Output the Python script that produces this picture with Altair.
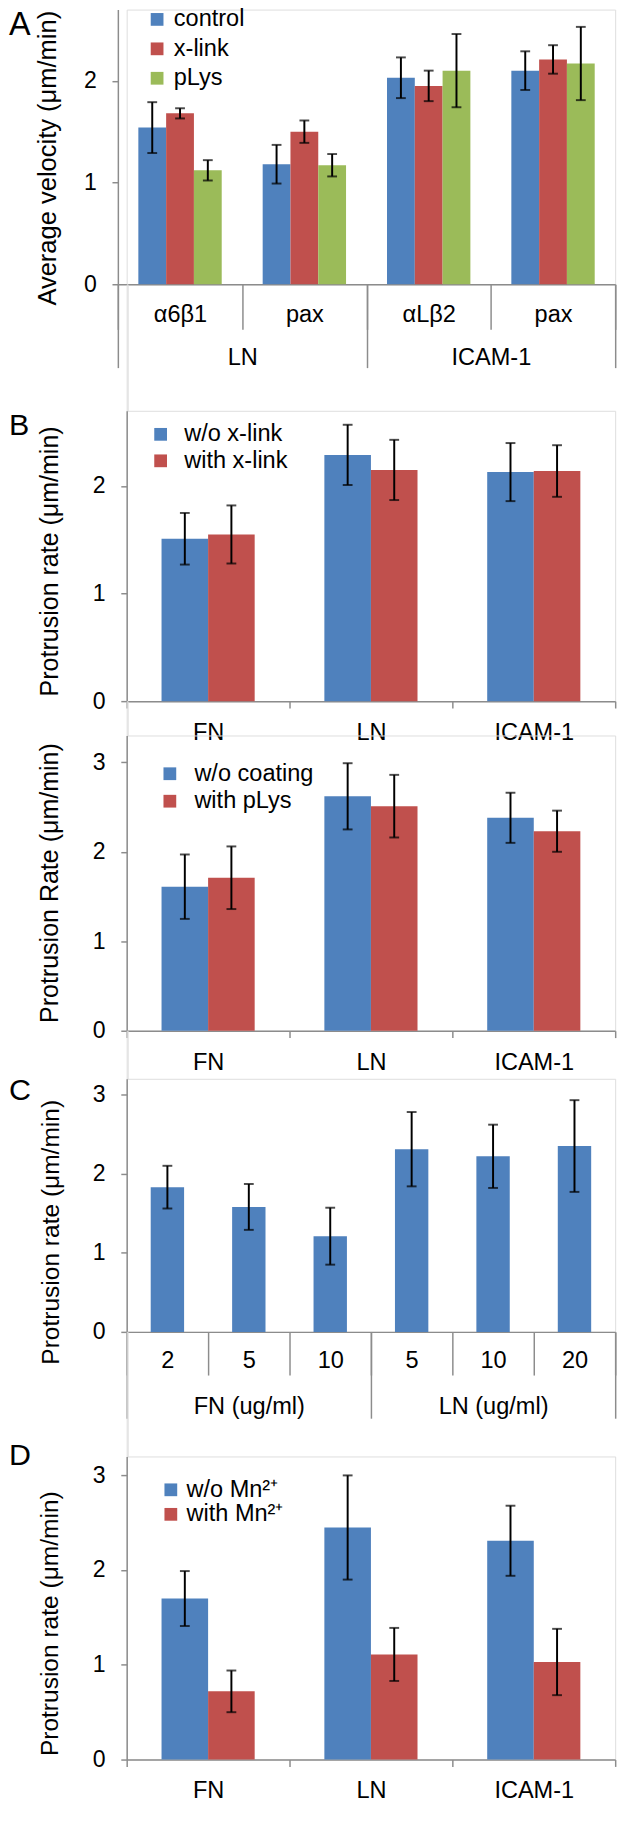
import altair as alt
import pandas as pd

FONT = "Liberation Sans"
GREY = "#8C8C8C"
W = 498

# ---------------- data ----------------
# Panel A
A_groups = ["LN", "LN", "ICAM-1", "ICAM-1"]
A_subs = ["α6β1", "pax", "αLβ2", "pax"]
A_series = ["control", "x-link", "pLys"]
A_colors = ["#4F81BD", "#C0504D", "#9BBB59"]
A_control = [1.54, 1.18, 2.03, 2.10]
A_control_err = [0.25, 0.19, 0.20, 0.19]
A_xlink = [1.68, 1.50, 1.95, 2.21]
A_xlink_err = [0.05, 0.11, 0.15, 0.14]
A_plys = [1.12, 1.17, 2.10, 2.17]
A_plys_err = [0.10, 0.11, 0.36, 0.36]

# Panel B (top)
B1_cats = ["FN", "LN", "ICAM-1"]
B1_series = ["w/o x-link", "with x-link"]
B1_wo = [1.51, 2.29, 2.13]
B1_wo_err = [0.24, 0.28, 0.27]
B1_with = [1.55, 2.15, 2.14]
B1_with_err = [0.27, 0.28, 0.24]

# Panel B (bottom)
B2_cats = ["FN", "LN", "ICAM-1"]
B2_series = ["w/o coating", "with pLys"]
B2_wo = [1.61, 2.62, 2.38]
B2_wo_err = [0.36, 0.37, 0.28]
B2_with = [1.71, 2.51, 2.23]
B2_with_err = [0.35, 0.35, 0.23]

# Panel C
C_groups = ["FN (ug/ml)"] * 3 + ["LN (ug/ml)"] * 3
C_subs = ["2", "5", "10", "5", "10", "20"]
C_values = [1.83, 1.58, 1.21, 2.31, 2.22, 2.35]
C_err = [0.27, 0.29, 0.36, 0.47, 0.40, 0.58]

# Panel D
D_cats = ["FN", "LN", "ICAM-1"]
D_series = ["w/o Mn²⁺", "with Mn²⁺"]
D_wo = [1.70, 2.45, 2.31]
D_wo_err = [0.29, 0.55, 0.37]
D_with = [0.72, 1.11, 1.03]
D_with_err = [0.22, 0.28, 0.35]

BLUE_RED = ["#4F81BD", "#C0504D"]


def make_df(cats, groups, series, vals, errs):
    rows = []
    for i, c in enumerate(cats):
        rows.append(dict(cat=c, grp=groups[i], series=series, value=vals[i],
                         lo=vals[i] - errs[i], hi=vals[i] + errs[i]))
    return pd.DataFrame(rows)


def panel(cats, groups, series_list, colors, ymax, yticks, height, ytitle,
          ytitle_size, title_x, title_y, letter, letter_size, letter_y,
          sub_tick, sub_pad, legend, bar_frac, xrange=None, yoffset=0,
          grp_order=None, grp_tick=None, grp_pad=None, label_expr=None):
    span = (xrange[1] - xrange[0]) if xrange else W
    step = span / len(cats)
    bar_w = bar_frac * step
    n = len(series_list)
    sc = dict(paddingInner=0, paddingOuter=0)
    if xrange is not None:
        sc["range"] = xrange
    xaxis_kw = dict(tickBand="extent", tickSize=sub_tick, tickColor=GREY,
                    tickWidth=1.5, domainColor=GREY, domainWidth=1.5,
                    labelFontSize=24, labelColor="black", labelPadding=sub_pad,
                    labelBaseline="middle", labelAngle=0, labelOverlap=False,
                    grid=False, labelFont=FONT)
    if label_expr:
        xaxis_kw["labelExpr"] = label_expr
    x = alt.X("cat:N", sort=cats, scale=alt.Scale(**sc),
              axis=alt.Axis(**xaxis_kw), title=None)
    yaxis = alt.Axis(values=yticks, format="d", titleFontSize=ytitle_size,
                     titleFont=FONT, titleFontWeight="normal", titleColor="black",
                     titleX=title_x, titleY=title_y, titleAngle=-90,
                     titleAlign="center", titleBaseline="middle",
                     labelFontSize=23.5, labelColor="black", labelFont=FONT,
                     labelPadding=16, tickSize=6, tickColor=GREY, tickWidth=1.5,
                     domainColor=GREY, domainWidth=1.5, grid=False,
                     offset=yoffset)

    def y(field):
        return alt.Y(f"{field}:Q", scale=alt.Scale(domain=[0, ymax], nice=False),
                     axis=yaxis, title=ytitle)

    names = [s for s, _, _ in series_list]
    color = alt.Color("series:N", sort=names,
                      scale=alt.Scale(domain=names, range=colors), legend=legend)
    layers = []
    for k, (s, vals, errs) in enumerate(series_list):
        df = make_df(cats, groups, s, vals, errs)
        dx = (k - (n - 1) / 2) * bar_w
        base = alt.Chart(df)
        layers.append(base.mark_bar(width=alt.RelativeBandSize(bar_frac),
                                    xOffset=dx).encode(
            x=x, y=y("value"), color=color))
        layers.append(base.mark_rule(color="black", strokeWidth=2, xOffset=dx)
                      .encode(x=x, y=y("lo"), y2="hi:Q"))
        layers.append(base.mark_tick(color="black", thickness=2, size=10,
                                     xOffset=dx).encode(x=x, y=y("lo")))
        layers.append(base.mark_tick(color="black", thickness=2, size=10,
                                     xOffset=dx).encode(x=x, y=y("hi")))
    if letter:
        ldf = pd.DataFrame({"t": [letter]})
        layers.append(alt.Chart(ldf).mark_text(
            fontSize=letter_size, font=FONT, color="black", align="left",
            baseline="alphabetic").encode(text="t:N", x=alt.value(-120),
                                          y=alt.value(letter_y)))
    inner = alt.layer(*layers)
    if grp_order is not None:
        gsc = dict(paddingInner=0, paddingOuter=0)
        if xrange is not None:
            gsc["range"] = xrange
        gdf = pd.DataFrame({"grp": grp_order})
        glayer = alt.Chart(gdf).mark_point(opacity=0).encode(
            x=alt.X("grp:N", sort=grp_order, scale=alt.Scale(**gsc),
                    axis=alt.Axis(orient="bottom", domain=False, tickBand="extent",
                                  tickSize=grp_tick, tickColor=GREY, tickWidth=1.5,
                                  labelFontSize=24, labelColor="black",
                                  labelPadding=grp_pad, labelBaseline="middle",
                                  labelAngle=0, labelOverlap=False, grid=False,
                                  labelFont=FONT),
                    title=None),
            y=alt.value(0))
        ch = alt.layer(inner, glayer).resolve_scale(x="independent")
    else:
        ch = inner
    return ch.properties(width=W, height=height)


def leg(x, y, row_pad, label_offset):
    return alt.Legend(orient="none", legendX=x, legendY=y, title=None,
                      symbolType="square", symbolSize=169, symbolStrokeWidth=0,
                      labelFontSize=24, labelFont=FONT, labelColor="black",
                      labelOffset=label_offset, rowPadding=row_pad, padding=0)


def spacer(h):
    return alt.Chart(pd.DataFrame({"a": [0]})).mark_point(opacity=0).encode(
        x=alt.value(0), y=alt.value(0)).properties(width=1, height=h)


A_cats = [g + "|" + s for g, s in zip(A_groups, A_subs)]
chA = panel(A_cats, A_groups,
            [("control", A_control, A_control_err),
             ("x-link", A_xlink, A_xlink_err),
             ("pLys", A_plys, A_plys_err)],
            A_colors, 2.7, [0, 1, 2], 280,
            "Average velocity (μm/min)", 26, -72, 151, "A", 33, 26,
            46, -15, leg(19, -2, 6, 5), 0.2235, xrange=[-9, W], yoffset=9,
            grp_order=["LN", "ICAM-1"], grp_tick=85, grp_pad=-10,
            label_expr="split(datum.label, '|')[1]")

chB1 = panel(B1_cats, B1_cats,
             [(B1_series[0], B1_wo, B1_wo_err), (B1_series[1], B1_with, B1_with_err)],
             BLUE_RED, 2.7, [0, 1, 2], 296,
             "Protrusion rate (μm/min)", 25.5, -79, 153, "B", 31, 25,
             7, 25, leg(22.6, 12, 3, 12), 0.286)

chB2 = panel(B2_cats, B2_cats,
             [(B2_series[0], B2_wo, B2_wo_err), (B2_series[1], B2_with, B2_with_err)],
             BLUE_RED, 3.3, [0, 1, 2, 3], 301,
             "Protrusion Rate (μm/min)", 25.5, -79, 150, "", 31, 0,
             7, 26, leg(32, 27, 4, 13), 0.286)

C_cats = [g + "|" + s for g, s in zip(C_groups, C_subs)]
chC = panel(C_cats, C_groups, [("rate", C_values, C_err)], ["#4F81BD"],
            3.2, [0, 1, 2, 3], 258,
            "Protrusion rate (μm/min)", 25, -78, 156, "C", 31, 22,
            44, -15, None, 0.41,
            grp_order=["FN (ug/ml)", "LN (ug/ml)"], grp_tick=88, grp_pad=-12,
            label_expr="split(datum.label, '|')[1]")

chD = panel(D_cats, D_cats,
            [(D_series[0], D_wo, D_wo_err), (D_series[1], D_with, D_with_err)],
            BLUE_RED, 3.2, [0, 1, 2, 3], 309,
            "Protrusion rate (μm/min)", 25, -79, 170, "D", 31, 9,
            7, 25, leg(33, 22, 1, 4), 0.286)

chart = alt.vconcat(chA, spacer(129), chB1, spacer(35), chB2, spacer(49), chC,
                    spacer(127), chD, spacing=0, bounds="flush",
                    padding={"top": -20, "bottom": 0, "left": 0, "right": 0}
                    ).resolve_scale(color="independent").configure_view(
    stroke=None).configure(font=FONT)

chart.save("out.html", embed_options={"renderer": "svg", "actions": False})
